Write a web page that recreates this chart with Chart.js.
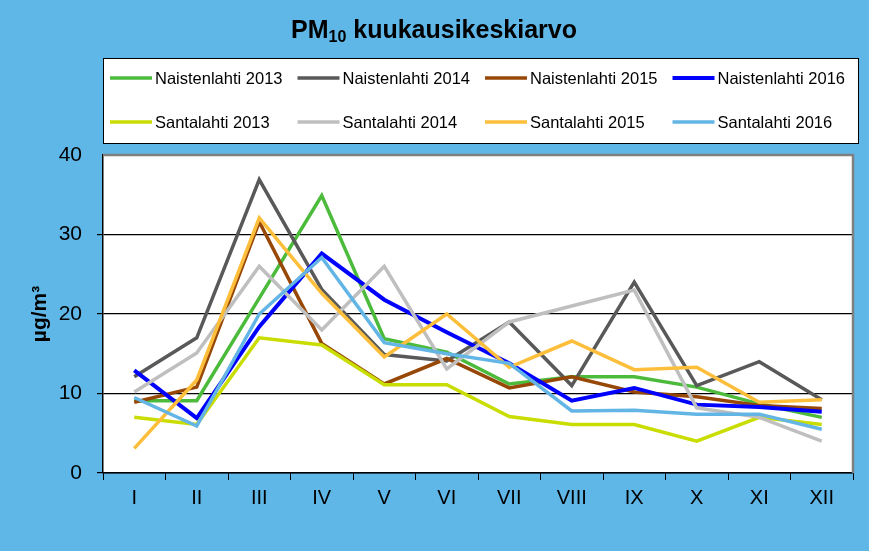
<!DOCTYPE html>
<html>
<head>
<meta charset="utf-8">
<script src="https://cdn.jsdelivr.net/npm/chart.js@4/dist/chart.umd.min.js"></script>
<style>
  html, body { margin: 0; padding: 0; background: #5fb7e8; }
  #wrap { width: 869px; height: 551px; }
</style>
</head>
<body>
<div id="wrap"><canvas id="pm-chart" width="869" height="551"></canvas></div>
<script>
// month labels (Roman numerals) and monthly means, µg/m3
const months = ['I', 'II', 'III', 'IV', 'V', 'VI', 'VII', 'VIII', 'IX', 'X', 'XI', 'XII'];
const yTicks = [0, 10, 20, 30, 40];

const naistenlahti2013 = [9.1, 9.1, 22.0, 34.9, 16.9, 15.2, 11.2, 12.1, 12.1, 10.8, 8.7, 7.0];
const naistenlahti2014 = [12.1, 17.0, 36.9, 23.1, 14.9, 14.1, 19.0, 11.0, 24.0, 11.0, 14.0, 9.2];
const naistenlahti2015 = [8.9, 10.8, 31.6, 16.3, 11.2, 14.4, 10.7, 12.1, 10.2, 9.6, 8.5, 8.1];
const naistenlahti2016 = [12.9, 6.9, 18.4, 27.6, 21.8, 17.7, 13.8, 9.1, 10.7, 8.6, 8.3, 7.7];
const santalahti2013 = [7.0, 6.1, 17.0, 16.1, 11.1, 11.1, 7.1, 6.1, 6.1, 4.0, 7.0, 6.1];
const santalahti2014 = [10.2, 15.1, 26.0, 18.0, 26.0, 13.1, 19.0, 21.0, 23.0, 8.2, 7.0, 4.0];
const santalahti2015 = [3.1, 11.7, 32.1, 22.6, 14.6, 20.0, 13.3, 16.6, 13.0, 13.3, 8.9, 9.2];
const santalahti2016 = [9.5, 5.9, 20.0, 27.1, 16.4, 15.0, 13.8, 7.8, 7.9, 7.4, 7.4, 5.5];

function series(label, data, color, width) {
    return { label: label, data: data, borderColor: color, backgroundColor: color,
             borderWidth: width || 3.5, pointRadius: 0, tension: 0, fill: false };
}

const datasets = [
    series('Naistenlahti 2013', naistenlahti2013, '#4cbb3c'),
    series('Naistenlahti 2014', naistenlahti2014, '#595959'),
    series('Naistenlahti 2015', naistenlahti2015, '#974806'),
    series('Naistenlahti 2016', naistenlahti2016, '#0000ff', 4),
    series('Santalahti 2013', santalahti2013, '#c9dd03'),
    series('Santalahti 2014', santalahti2014, '#bfbfbf'),
    series('Santalahti 2015', santalahti2015, '#fdbf3b'),
    series('Santalahti 2016', santalahti2016, '#62b5e5')
];
// later series drawn on top, like the original
datasets.forEach((d, i) => { d.order = datasets.length - i; });

// background, plot frame, title and boxed legend
const decor = {
    id: 'decor',
    beforeDraw(chart) {
        const ctx = chart.ctx;
        const a = chart.chartArea;
        ctx.save();
        ctx.fillStyle = '#5fb7e8';
        ctx.fillRect(0, 0, chart.width, chart.height);
        ctx.fillStyle = '#ffffff';
        ctx.fillRect(a.left, a.top, a.right - a.left, a.bottom - a.top);
        ctx.restore();
    },
    afterDraw(chart) {
        const ctx = chart.ctx;
        const a = chart.chartArea;
        ctx.save();
        // gray frame on top and right
        ctx.strokeStyle = '#808080';
        ctx.lineWidth = 2.5;
        ctx.beginPath();
        ctx.moveTo(a.left, a.top);
        ctx.lineTo(a.right, a.top);
        ctx.lineTo(a.right, a.bottom);
        ctx.stroke();

        // title with subscript
        ctx.fillStyle = '#000000';
        ctx.textBaseline = 'alphabetic';
        const big = 'bold 25px "Liberation Sans", Arial, sans-serif';
        const small = 'bold 16px "Liberation Sans", Arial, sans-serif';
        ctx.font = big;
        const w1 = ctx.measureText('PM').width;
        const w3 = ctx.measureText(' kuukausikeskiarvo').width;
        ctx.font = small;
        const w2 = ctx.measureText('10').width;
        let x = 434 - (w1 + w2 + w3) / 2;
        const base = 38;
        ctx.font = big;
        ctx.fillText('PM', x, base);
        ctx.font = small;
        ctx.fillText('10', x + w1, base + 4);
        ctx.font = big;
        ctx.fillText(' kuukausikeskiarvo', x + w1 + w2, base);

        // legend box
        ctx.fillStyle = '#ffffff';
        ctx.fillRect(103.5, 58.5, 755, 85);
        ctx.strokeStyle = '#000000';
        ctx.lineWidth = 1;
        ctx.strokeRect(103.5, 58.5, 755, 85);
        ctx.font = '16.5px "Liberation Sans", Arial, sans-serif';
        ctx.textBaseline = 'middle';
        chart.data.datasets.forEach((d, i) => {
            const col = i % 4, row = Math.floor(i / 4);
            const lx = 110 + col * 187.5;
            const ly = 78 + row * 44;
            ctx.strokeStyle = d.borderColor;
            ctx.lineWidth = d.borderWidth;
            ctx.beginPath();
            ctx.moveTo(lx, ly);
            ctx.lineTo(lx + 42, ly);
            ctx.stroke();
            ctx.fillStyle = '#000000';
            ctx.fillText(d.label, lx + 45, ly + 1);
        });
        ctx.restore();
    }
};

new Chart(document.getElementById('pm-chart'), {
    type: 'line',
    data: { labels: months, datasets: datasets },
    options: {
        responsive: false,
        animation: false,
        layout: { padding: { top: 155, right: 16, left: 0, bottom: 0 } },
        plugins: { legend: { display: false }, title: { display: false }, tooltip: { enabled: false } },
        scales: {
            x: {
                offset: true,
                grid: { offset: true, drawOnChartArea: false, drawTicks: true, tickLength: 7, color: '#000000', lineWidth: 1 },
                border: { color: '#000000', width: 1.5 },
                ticks: { color: '#000000', padding: 6, maxRotation: 0,
                         font: { family: '"Liberation Sans", Arial, sans-serif', size: 20 } },
                afterFit(scale) { scale.height = 78; }
            },
            y: {
                min: 0, max: 40,
                afterBuildTicks(scale) { scale.ticks = yTicks.map(v => ({ value: v })); },
                grid: {
                    color: ctx => ctx.tick && ctx.tick.value === 40 ? 'rgba(0,0,0,0)' : '#000000',
                    lineWidth: 1.2, tickLength: 6, drawTicks: true
                },
                border: { color: '#000000', width: 1.5 },
                ticks: { color: '#000000', padding: 15,
                         font: { family: '"Liberation Sans", Arial, sans-serif', size: 21 } },
                title: { display: true, text: 'µg/m³', color: '#000000', padding: { top: 28, bottom: 0 },
                         font: { family: '"Liberation Sans", Arial, sans-serif', size: 21, weight: 'bold' } },
                afterFit(scale) { scale.width = 103; }
            }
        }
    },
    plugins: [decor]
});
</script>
</body>
</html>
